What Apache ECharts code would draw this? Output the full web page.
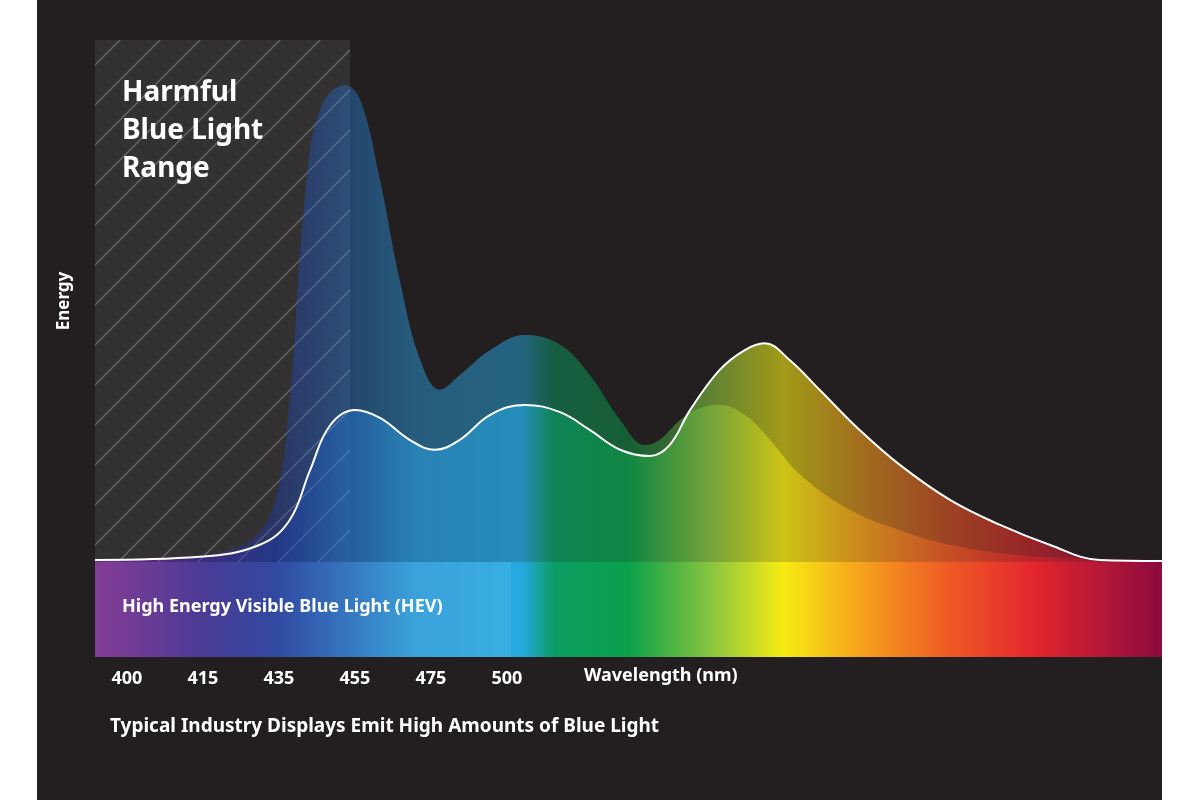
<!DOCTYPE html>
<html><head><meta charset="utf-8">
<script src="https://cdn.jsdelivr.net/npm/echarts@6/dist/echarts.min.js"></script>
<style>html,body{margin:0;padding:0;background:#fff}#c{width:1200px;height:800px}</style>
</head><body><div id="c"></div>
<script>
// x in label-step units: 400 -> 0, 415 -> 1, ... 500 -> 5
const tickLabels = ['400','415','435','455','475','500'];
const tickPositions = [0,1,2,3,4,5];
// Curve A (tall blue peak, no outline)
const curveAX = [-0.42,0.96,1.62,1.95,2.14,2.34,2.54,2.87,3.07,3.33,3.59,3.86,4.12,4.38,4.78,5.24,5.70,6.09,6.49,6.82,7.01,7.28,7.54,7.80,8.13,8.46,8.86,9.51,10.17,10.83,11.49,12.28,13.62];
const curveAY = [0.4,1.3,4.2,11.9,31.0,69.3,86.6,91.4,88.5,73.2,54.0,38.7,33.0,35.8,40.6,43.5,41.6,35.8,27.2,22.4,23.4,27.2,29.5,30.1,28.2,23.4,16.7,10.0,6.1,3.3,1.7,0.8,0.4];
// Curve B (white outlined)
const curveBX = [-0.42,0.96,1.75,2.14,2.41,2.67,3.00,3.33,3.72,4.05,4.38,4.78,5.24,5.70,6.09,6.49,6.88,7.14,7.41,7.80,8.13,8.39,8.72,9.12,9.64,10.17,10.83,11.49,12.14,12.80,13.62];
const curveBY = [0.4,1.0,3.3,8.0,17.6,26.1,29.1,27.6,23.4,21.5,23.4,28.2,30.1,28.7,25.3,21.5,20.3,22.4,29.1,36.8,40.6,41.9,38.7,32.9,25.3,18.6,11.9,7.1,3.3,0.4,0.2];

const spectrum = [
 [0,'#7b2d8e'],[0.10,'#3d2a8c'],[0.17,'#1f3a9a'],[0.30,'#2a9ad8'],[0.40,'#26a9e0'],
 [0.43,'#0b9c63'],[0.50,'#0aa04a'],[0.58,'#8dc63f'],[0.645,'#f7ec13'],[0.72,'#f5a01d'],
 [0.80,'#ee5a24'],[0.88,'#e3262d'],[1,'#8c0a3e']];
function grad(op){return {type:'linear',x:0,y:0,x2:1,y2:0,global:false,
  colorStops:spectrum.map(s=>({offset:s[0],color:s[1]}))};}

const pat = document.createElement('canvas'); pat.width=40; pat.height=40;
const pc = pat.getContext('2d'); pc.strokeStyle='rgba(255,255,255,0.16)'; pc.lineWidth=1.5;
pc.beginPath(); pc.moveTo(0,40); pc.lineTo(40,0); pc.moveTo(-10,10); pc.lineTo(10,-10); pc.moveTo(30,50); pc.lineTo(50,30); pc.stroke();

const chart = echarts.init(document.getElementById('c'));
const F = '"Noto Sans", sans-serif';
chart.setOption({
 backgroundColor:'#ffffff',
 animation:false,
 grid:{left:95,right:38,top:40,bottom:238},
 xAxis:{type:'value',min:-0.42,max:13.62,
  axisLine:{show:false},axisTick:{show:false},splitLine:{show:false},
  axisLabel:{customValues:tickPositions,formatter:v=>tickLabels[Math.round(v)],color:'#fff',
    fontFamily:F,fontWeight:'bold',fontSize:18,margin:108}},
 yAxis:{type:'value',min:0,max:100,axisLine:{show:false},axisTick:{show:false},splitLine:{show:false},
  axisLabel:{show:false},name:'Energy',nameLocation:'middle',nameGap:22,nameRotate:90,
  nameTextStyle:{color:'#fff',fontFamily:F,fontWeight:'bold',fontSize:17}},
 graphic:[
  {type:'rect',z:-10,shape:{x:37,y:0,width:1125,height:800},style:{fill:'#231f20'}},
  {type:'rect',z:-9,shape:{x:95,y:40,width:255,height:522},style:{fill:'#333132'}},
  {type:'rect',z:-8,shape:{x:95,y:40,width:255,height:522},style:{fill:{image:pat,repeat:'repeat'}}},
  {type:'rect',z:5,shape:{x:95,y:40,width:255,height:522},style:{fill:{image:pat,repeat:'repeat'},opacity:0.7}},
  {type:'rect',z:1,shape:{x:95,y:562,width:1067,height:95},style:{fill:grad()}},
  {type:'rect',z:1,shape:{x:95,y:562,width:416,height:95},style:{fill:'rgba(255,255,255,0.08)'}},
  {type:'text',z:6,left:122,top:598,style:{text:'High Energy Visible Blue Light (HEV)',fill:'#fff',font:'bold 18px "Noto Sans"'}},
  {type:'text',z:6,left:122,top:74,style:{text:'Harmful\nBlue Light\nRange',fill:'#fff',font:'bold 28px "Noto Sans"',lineHeight:38}},
  {type:'text',z:6,left:584,top:667,style:{text:'Wavelength (nm)',fill:'#fff',font:'bold 18px "Noto Sans"'}},
  {type:'text',z:6,left:110,top:717,style:{text:'Typical Industry Displays Emit High Amounts of Blue Light',fill:'#fff',font:'bold 19px "Noto Sans"'}}
 ],
 series:[
  {type:'line',z:2,smooth:0.4,symbol:'none',data:curveAX.map((x,i)=>[x,curveAY[i]]),
   lineStyle:{width:0},areaStyle:{color:grad(),opacity:0.5}},
  {type:'line',z:3,smooth:0.4,symbol:'none',data:curveBX.map((x,i)=>[x,curveBY[i]]),
   lineStyle:{width:0},areaStyle:{color:grad(),opacity:0.6}},
  {type:'line',z:7,smooth:0.4,symbol:'none',data:curveBX.map((x,i)=>[x,curveBY[i]]),
   lineStyle:{width:2,color:'#fff'}}
 ]
});
</script></body></html>
